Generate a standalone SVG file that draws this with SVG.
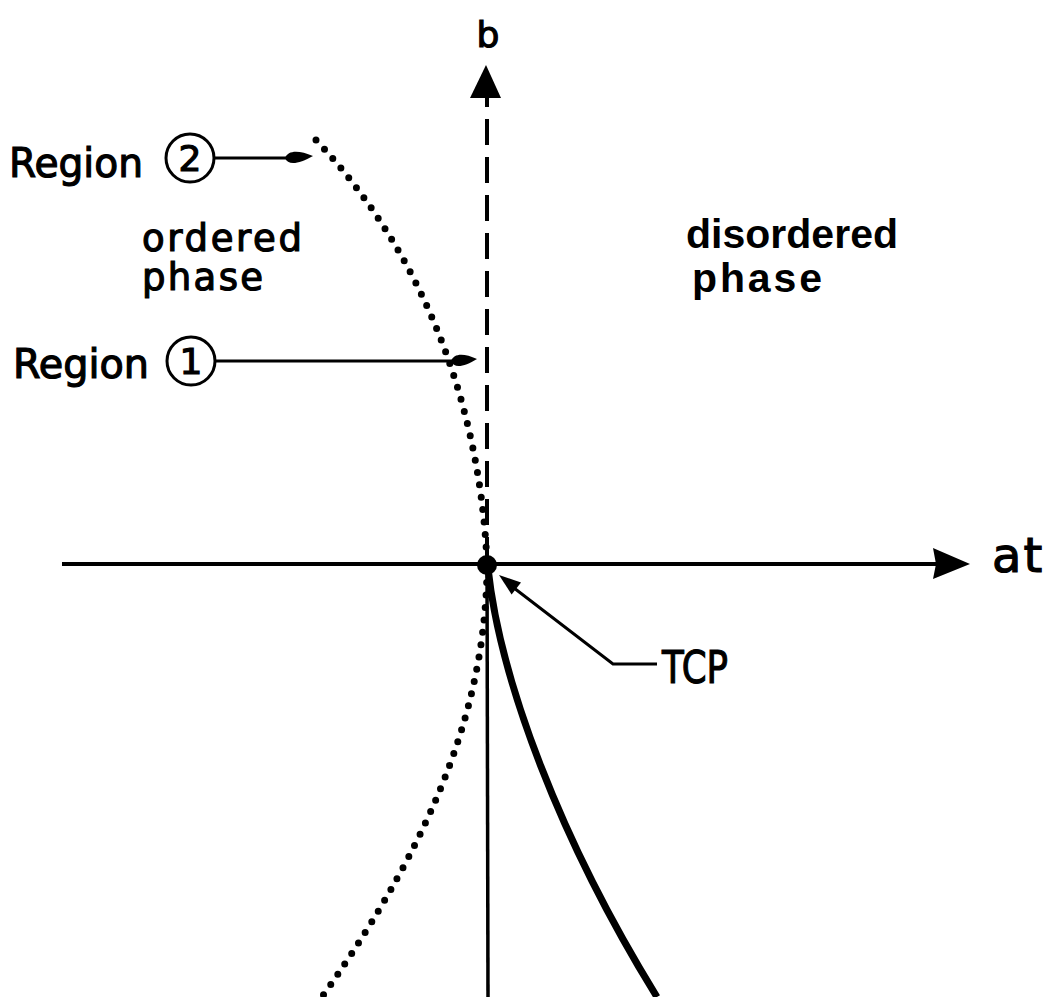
<svg xmlns="http://www.w3.org/2000/svg" width="1049" height="997" viewBox="0 0 1049 997">
<style>
.lbl{font-family:"DejaVu Sans","Liberation Sans",sans-serif;fill:#000;stroke:#000;stroke-width:1.2}
.bold{font-family:"Liberation Sans",Arial,sans-serif;font-weight:bold;fill:#000}
.ln{stroke:#000;fill:none}
.dot{stroke:#000;fill:none;stroke-width:7;stroke-linecap:round;stroke-dasharray:0 12.5}
.blk{fill:#000;stroke:none}
</style>
<rect width="1049" height="997" fill="#fff"/>
<g id="connectors">
  <!-- horizontal axis -->
  <line class="ln" x1="62" y1="564" x2="940" y2="564" stroke-width="4"/>
  <path class="blk" d="M970,564 L933,548 L936,564 L933,579 Z"/>
  <!-- vertical dashed axis -->
  <line class="ln" x1="487" y1="563" x2="487" y2="98" stroke-width="4" stroke-dasharray="26 12"/>
  <path class="blk" d="M486,65 L470,98 L501,98 Z"/>
  <!-- vertical solid line below -->
  <line class="ln" x1="487" y1="565" x2="488" y2="997" stroke-width="3.5"/>
  <!-- solid curve -->
  <path class="ln" d="M488,568 C500,680 560,840 657,997" stroke-width="7"/>
  <!-- dotted curves -->
  <path class="dot" d="M316,140 C420,250 480,400 487,563"/>
  <path class="dot" d="M487,570 C485,700 440,830 322,997"/>
  <!-- Region 2 arrow -->
  <line class="ln" x1="213" y1="158" x2="292" y2="158" stroke-width="3"/>
  <path class="blk" d="M285,158 C288,150 299,150 313,156 C299,164 288,166 285,158 Z"/>
  <!-- Region 1 arrow -->
  <line class="ln" x1="214" y1="361" x2="458" y2="361" stroke-width="3"/>
  <path class="blk" d="M451,361 C454,353 464,353 477,359 C464,367 454,369 451,361 Z"/>
  <!-- TCP leader -->
  <polyline class="ln" points="657,664 613,664 514,588" stroke-width="3"/>
  <path class="blk" d="M499,575 L511.6,594.4 L521,582.6 Z"/>
</g>
<g id="tcp-point">
  <circle cx="487" cy="565" r="10" fill="#000"/>
</g>
<g id="axis-labels">
  <text class="lbl" x="488" y="47" font-size="36" text-anchor="middle">b</text>
  <text class="lbl" x="992" y="572" font-size="48" letter-spacing="2">at</text>
</g>
<g id="region2">
  <text class="lbl" x="9" y="177" font-size="41" textLength="134" lengthAdjust="spacingAndGlyphs">Region</text>
  <circle cx="190" cy="158" r="24" fill="none" stroke="#000" stroke-width="3"/>
  <text class="lbl" x="190" y="171" font-size="36" text-anchor="middle">2</text>
</g>
<g id="region1">
  <text class="lbl" x="13" y="378" font-size="40" textLength="136" lengthAdjust="spacingAndGlyphs">Region</text>
  <circle cx="191" cy="361" r="24" fill="none" stroke="#000" stroke-width="3"/>
  <text class="lbl" x="191" y="374" font-size="36" text-anchor="middle">1</text>
</g>
<g id="ordered">
  <text class="lbl" x="142" y="251" font-size="37" textLength="160" lengthAdjust="spacing">ordered</text>
  <text class="lbl" x="142" y="290" font-size="37" textLength="121" lengthAdjust="spacing">phase</text>
</g>
<g id="disordered">
  <text class="bold" x="686" y="248" font-size="41" textLength="212" lengthAdjust="spacing">disordered</text>
  <text class="bold" x="692" y="292" font-size="41" textLength="130" lengthAdjust="spacing">phase</text>
</g>
<g id="tcp-label">
  <text class="lbl" x="662" y="683" font-size="45" textLength="66" lengthAdjust="spacingAndGlyphs">TCP</text>
</g>
</svg>
